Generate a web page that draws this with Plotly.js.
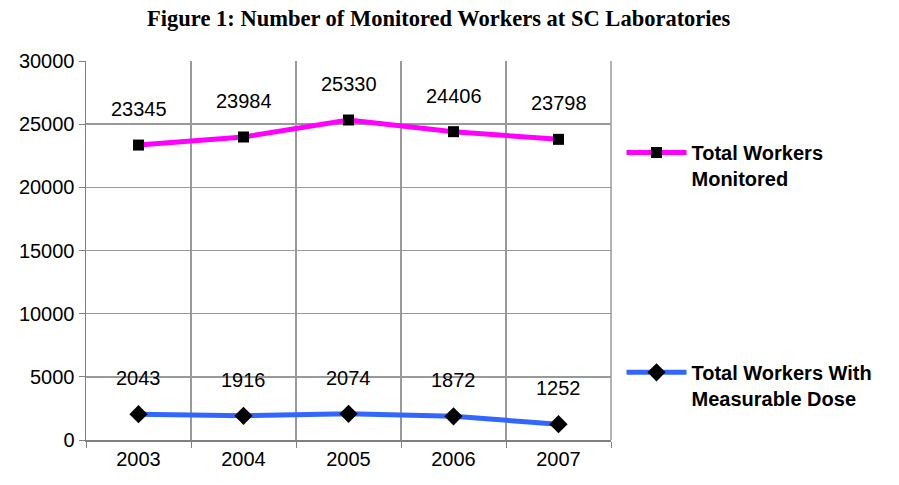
<!DOCTYPE html>
<html>
<head>
<meta charset="utf-8">
<script src="https://cdn.plot.ly/plotly-3.0.1.min.js"></script>
<style>html,body{margin:0;padding:0;background:#fff;}#chart{width:899px;height:485px;}</style>
</head>
<body>
<div id="chart"></div>
<script>
const years = ["2003", "2004", "2005", "2006", "2007"];
const totalMonitored = [23345, 23984, 25330, 24406, 23798];
const measurableDose = [2043, 1916, 2074, 1872, 1252];
const seriesNames = ["Total Workers<br>Monitored", "Total Workers With<br>Measurable Dose"];
const yTicks = [0, 5000, 10000, 15000, 20000, 25000, 30000];

const labelFont = {family: "Liberation Sans, Arial, sans-serif", size: 20, color: "#000"};

const traces = [
  {
    x: years, y: totalMonitored, name: seriesNames[0], type: "scatter", mode: "lines+markers",
    line: {color: "#FF00FF", width: 5},
    marker: {symbol: "square", size: 11, color: "#000"},
    legend: "legend"
  },
  {
    x: years, y: measurableDose, name: seriesNames[1], type: "scatter", mode: "lines+markers",
    line: {color: "#3366FF", width: 5},
    marker: {symbol: "diamond", size: 14, color: "#000"},
    legend: "legend2"
  }
];

const annotations = [];
[totalMonitored, measurableDose].forEach(arr => {
  arr.forEach((v, i) => {
    annotations.push({x: i, y: v, xref: "x", yref: "y", text: String(v), showarrow: false, yshift: 36, font: labelFont});
  });
});

const legendFont = {family: "Liberation Sans, Arial, sans-serif", size: 20, color: "#000", weight: "bold"};

const layout = {
  width: 899, height: 485,
  margin: {l: 86, r: 288, t: 61, b: 45},
  paper_bgcolor: "#fff", plot_bgcolor: "#fff",
  title: {
    text: "<b>Figure 1: Number of Monitored Workers at SC Laboratories</b>",
    font: {family: "Liberation Serif, Times New Roman, serif", size: 22.5, color: "#000"},
    x: 0.488, xanchor: "center", y: 0.962, yanchor: "middle"
  },
  xaxis: {
    type: "category", range: [-0.5, 4.5], tickson: "boundaries",
    showgrid: true, gridcolor: "#999", gridwidth: 1.5,
    showline: true, linecolor: "#808080", linewidth: 1.5, mirror: false,
    ticks: "outside", ticklen: 6, tickcolor: "#808080",
    tickfont: {family: "Liberation Sans, Arial, sans-serif", size: 20, color: "#000"},
    zeroline: false, fixedrange: true
  },
  yaxis: {
    range: [0, 30000], tickvals: yTicks, ticktext: yTicks.map(String),
    showgrid: true, gridcolor: "#999", gridwidth: 1.5,
    showline: true, linecolor: "#808080", linewidth: 1.5,
    ticks: "outside", ticklen: 6, tickcolor: "#808080",
    tickfont: {family: "Liberation Sans, Arial, sans-serif", size: 20, color: "#000"},
    zeroline: false, fixedrange: true
  },
  shapes: [
    {type: "line", xref: "paper", yref: "paper", x0: 1, x1: 1, y0: 0, y1: 1, line: {color: "#999", width: 1.5}}
  ],
  annotations: annotations,
  legend: {
    x: 1.02, xanchor: "left", y: 0.81, yanchor: "top", valign: "top",
    font: legendFont, bgcolor: "rgba(0,0,0,0)", itemwidth: 60
  },
  legend2: {
    x: 1.02, xanchor: "left", y: 0.23, yanchor: "top", valign: "top",
    font: legendFont, bgcolor: "rgba(0,0,0,0)", itemwidth: 60
  },
  showlegend: true
};

Plotly.newPlot("chart", traces, layout, {displayModeBar: false, staticPlot: true});
</script>
</body>
</html>
